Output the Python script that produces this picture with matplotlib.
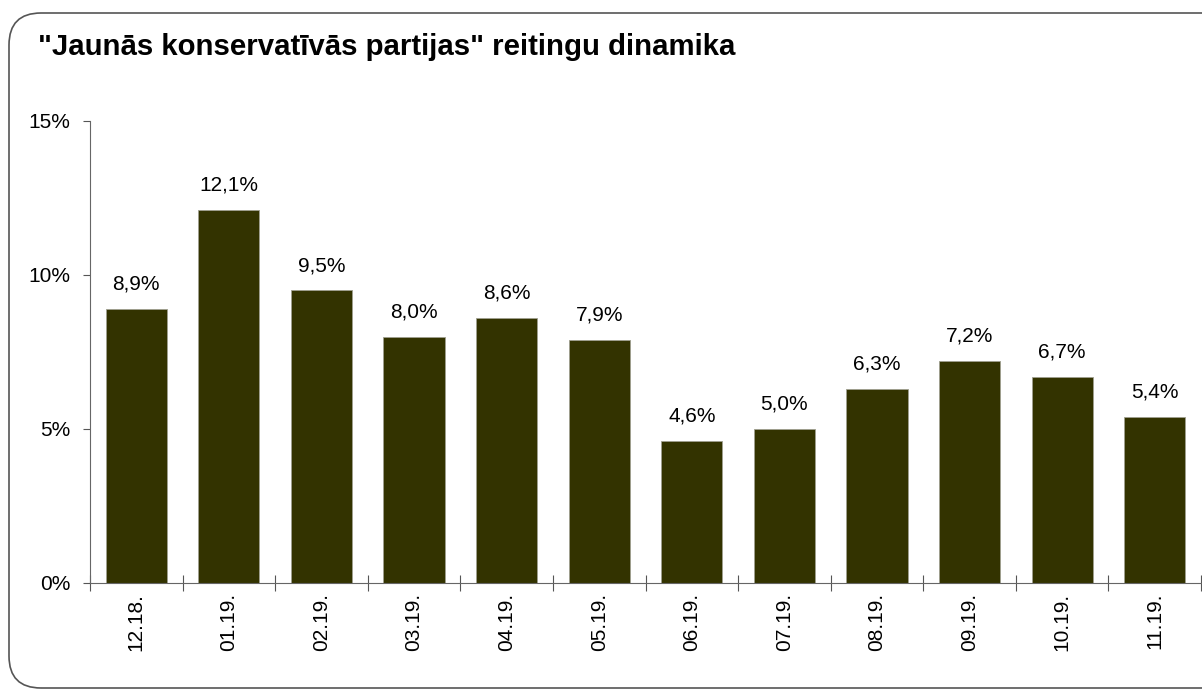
import matplotlib.pyplot as plt
from matplotlib.patches import FancyBboxPatch
import numpy as np

plt.rcParams['font.family'] = ['Liberation Sans', 'DejaVu Sans']

months = ['12.18.', '01.19.', '02.19.', '03.19.', '04.19.', '05.19.',
          '06.19.', '07.19.', '08.19.', '09.19.', '10.19.', '11.19.']
rating = [8.9, 12.1, 9.5, 8.0, 8.6, 7.9, 4.6, 5.0, 6.3, 7.2, 6.7, 5.4]
title = '"Jaunās konservatīvās partijas" reitingu dinamika'

W, H = 1202, 690
fig = plt.figure(figsize=(W / 100, H / 100), dpi=100)

# background axes in pixel units, only for the rounded frame
bg = fig.add_axes([0, 0, 1, 1])
bg.set_xlim(0, W)
bg.set_ylim(0, H)
bg.axis('off')
bg.add_patch(FancyBboxPatch((9, 2), 1225, 675,
                            boxstyle='round,pad=0,rounding_size=32',
                            fill=False, edgecolor='#555555', linewidth=1.2))

fig.text(38 / W, 1 - 47 / H, title, fontsize=21.2, fontweight='bold',
         va='center', ha='left')

ax = fig.add_axes([90 / W, 1 - 583 / H, 1111 / W, (583 - 121) / H])
x = np.arange(len(months))
ax.bar(x, rating, width=0.66, color='#333300', edgecolor='#a0a090',
       linewidth=0.6)
for xi, v in zip(x, rating):
    ax.text(xi, v + 0.5, f'{v:.1f}%'.replace('.', ','), ha='center',
            va='bottom', fontsize=15)

ax.set_xlim(-0.5, len(months) - 0.5)
ax.set_ylim(0, 15)
ax.set_yticks([0, 5, 10, 15])
ax.set_yticklabels(['0%', '5%', '10%', '15%'], fontsize=15)
ax.set_xticks(np.arange(-0.5, len(months), 1.0))
ax.set_xticklabels([])
ax.set_xticks(x, minor=True)
ax.set_xticklabels(months, minor=True, rotation=90, fontsize=15)
ax.tick_params(axis='x', which='major', direction='inout', length=12,
               color='#555555')
ax.tick_params(axis='x', which='minor', length=0, pad=7)
ax.tick_params(axis='y', direction='out', length=5, color='#555555', pad=9)
for s in ['top', 'right']:
    ax.spines[s].set_visible(False)
for s in ['left', 'bottom']:
    ax.spines[s].set_color('#666666')
for t in ax.xaxis.get_major_ticks():
    t.tick1line.set_clip_on(False)

fig.savefig('out.png', dpi=100)
